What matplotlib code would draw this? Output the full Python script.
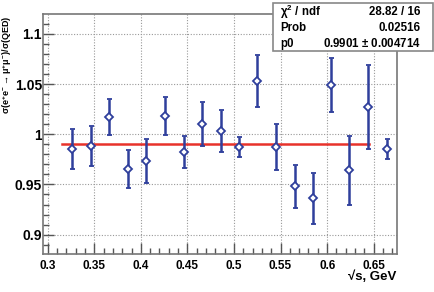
import matplotlib
matplotlib.use("Agg")
import matplotlib.pyplot as plt
from matplotlib.ticker import MultipleLocator, FixedLocator
import numpy as np

# Data
energy = [0.326, 0.346, 0.366, 0.386, 0.406, 0.426, 0.446, 0.466, 0.486,
          0.505, 0.525, 0.545, 0.565, 0.585, 0.604, 0.624, 0.644, 0.664]
ratio = [0.985, 0.988, 1.017, 0.965, 0.973, 1.018, 0.982, 1.010, 1.003,
         0.987, 1.053, 0.987, 0.948, 0.936, 1.049, 0.964, 1.027, 0.985]
ratio_err = [0.020, 0.020, 0.018, 0.019, 0.022, 0.019, 0.016, 0.022, 0.021,
             0.010, 0.026, 0.023, 0.021, 0.025, 0.027, 0.034, 0.042, 0.010]
fit_range = [0.315, 0.645]
fit_p0 = 0.9901
stats_labels = [r"$\mathbf{\chi^{2}}$ / ndf", "Prob", "p0"]
stats_values = ["28.82 / 16", "0.02516", "0.9901 $\\pm$ 0.004714"]
xticks = [0.3, 0.35, 0.4, 0.45, 0.5, 0.55, 0.6, 0.65]
xtick_labels = ["0.3", "0.35", "0.4", "0.45", "0.5", "0.55", "0.6", "0.65"]
yticks = [0.9, 0.95, 1.0, 1.05, 1.1]
ytick_labels = ["0.9", "0.95", "1", "1.05", "1.1"]

plt.rcParams['font.family'] = ['Liberation Sans', 'DejaVu Sans']
plt.rcParams['font.weight'] = 'bold'
plt.rcParams['mathtext.fontset'] = 'custom'
plt.rcParams['mathtext.rm'] = 'Liberation Sans:bold'
plt.rcParams['mathtext.it'] = 'Liberation Sans:bold'
plt.rcParams['mathtext.bf'] = 'Liberation Sans:bold'

fig = plt.figure(figsize=(4.35, 2.92), dpi=100)
ax = fig.add_axes([0.0996, 0.129, 0.8130, 0.823])

blue = '#2f3f9c'
red = '#e8322b'

ax.plot(fit_range, [fit_p0, fit_p0], color=red, lw=1.8, zorder=2)
ax.errorbar(energy, ratio, yerr=ratio_err, fmt='D', ms=4.0, mfc='white',
            mec=blue, mew=1.3, ecolor=blue, elinewidth=1.8, capsize=1.8,
            capthick=1.5, zorder=3)

ax.set_xlim(0.2953, 0.675)
ax.set_ylim(0.8804, 1.1197)

ax.xaxis.set_major_locator(FixedLocator(xticks))
ax.set_xticklabels(xtick_labels)
ax.yaxis.set_major_locator(FixedLocator(yticks))
ax.set_yticklabels(ytick_labels)
ax.xaxis.set_minor_locator(MultipleLocator(0.01))
ax.yaxis.set_minor_locator(MultipleLocator(0.01))

ax.tick_params(which='major', direction='in', length=8, width=1.0,
               color='#555555', pad=4)
ax.tick_params(which='minor', direction='in', length=4, width=1.0,
               color='#555555')
ax.tick_params(axis='x', which='major', labelsize=8.5, pad=4)
ax.tick_params(axis='y', which='major', labelsize=10, pad=1)
for lbl in ax.get_xticklabels() + ax.get_yticklabels():
    lbl.set_fontweight('bold')

ax.grid(True, which='major', linestyle=(0, (1, 1.5)), color='#999999', lw=0.8)
ax.set_axisbelow(True)
for sp in ax.spines.values():
    sp.set_color('#777777')
    sp.set_linewidth(1.2)

fig.text(7 / 435, 1 - 15 / 292,
         r"$\sigma(e^{+}e^{-}\rightarrow\mu^{+}\mu^{-})/\sigma(QED)$",
         fontsize=6.5, rotation=90, ha='center', va='top')
fig.text(396 / 435, 1 - 277 / 292, "√s, GeV", fontsize=9.5,
         fontweight='bold', ha='right', va='center')

# Stats box
bx0, by0, bw, bh = 272.7 / 435, 1 - 51 / 292, 160 / 435, 48 / 292
rect = plt.Rectangle((bx0, by0), bw, bh, transform=fig.transFigure,
                     facecolor='white', edgecolor='#888888', lw=1.2, zorder=10)
fig.add_artist(rect)
for i, (lab, val) in enumerate(zip(stats_labels, stats_values)):
    yy = by0 + bh - (i + 0.55) * bh / 3
    fig.text(bx0 + 0.017, yy, lab, fontsize=8.3, fontweight='bold',
             va='center', ha='left', zorder=11)
    fig.text(bx0 + bw - 0.027, yy, val, fontsize=8.3, fontweight='bold',
             va='center', ha='right', zorder=11)

fig.savefig('out.png', dpi=100)
